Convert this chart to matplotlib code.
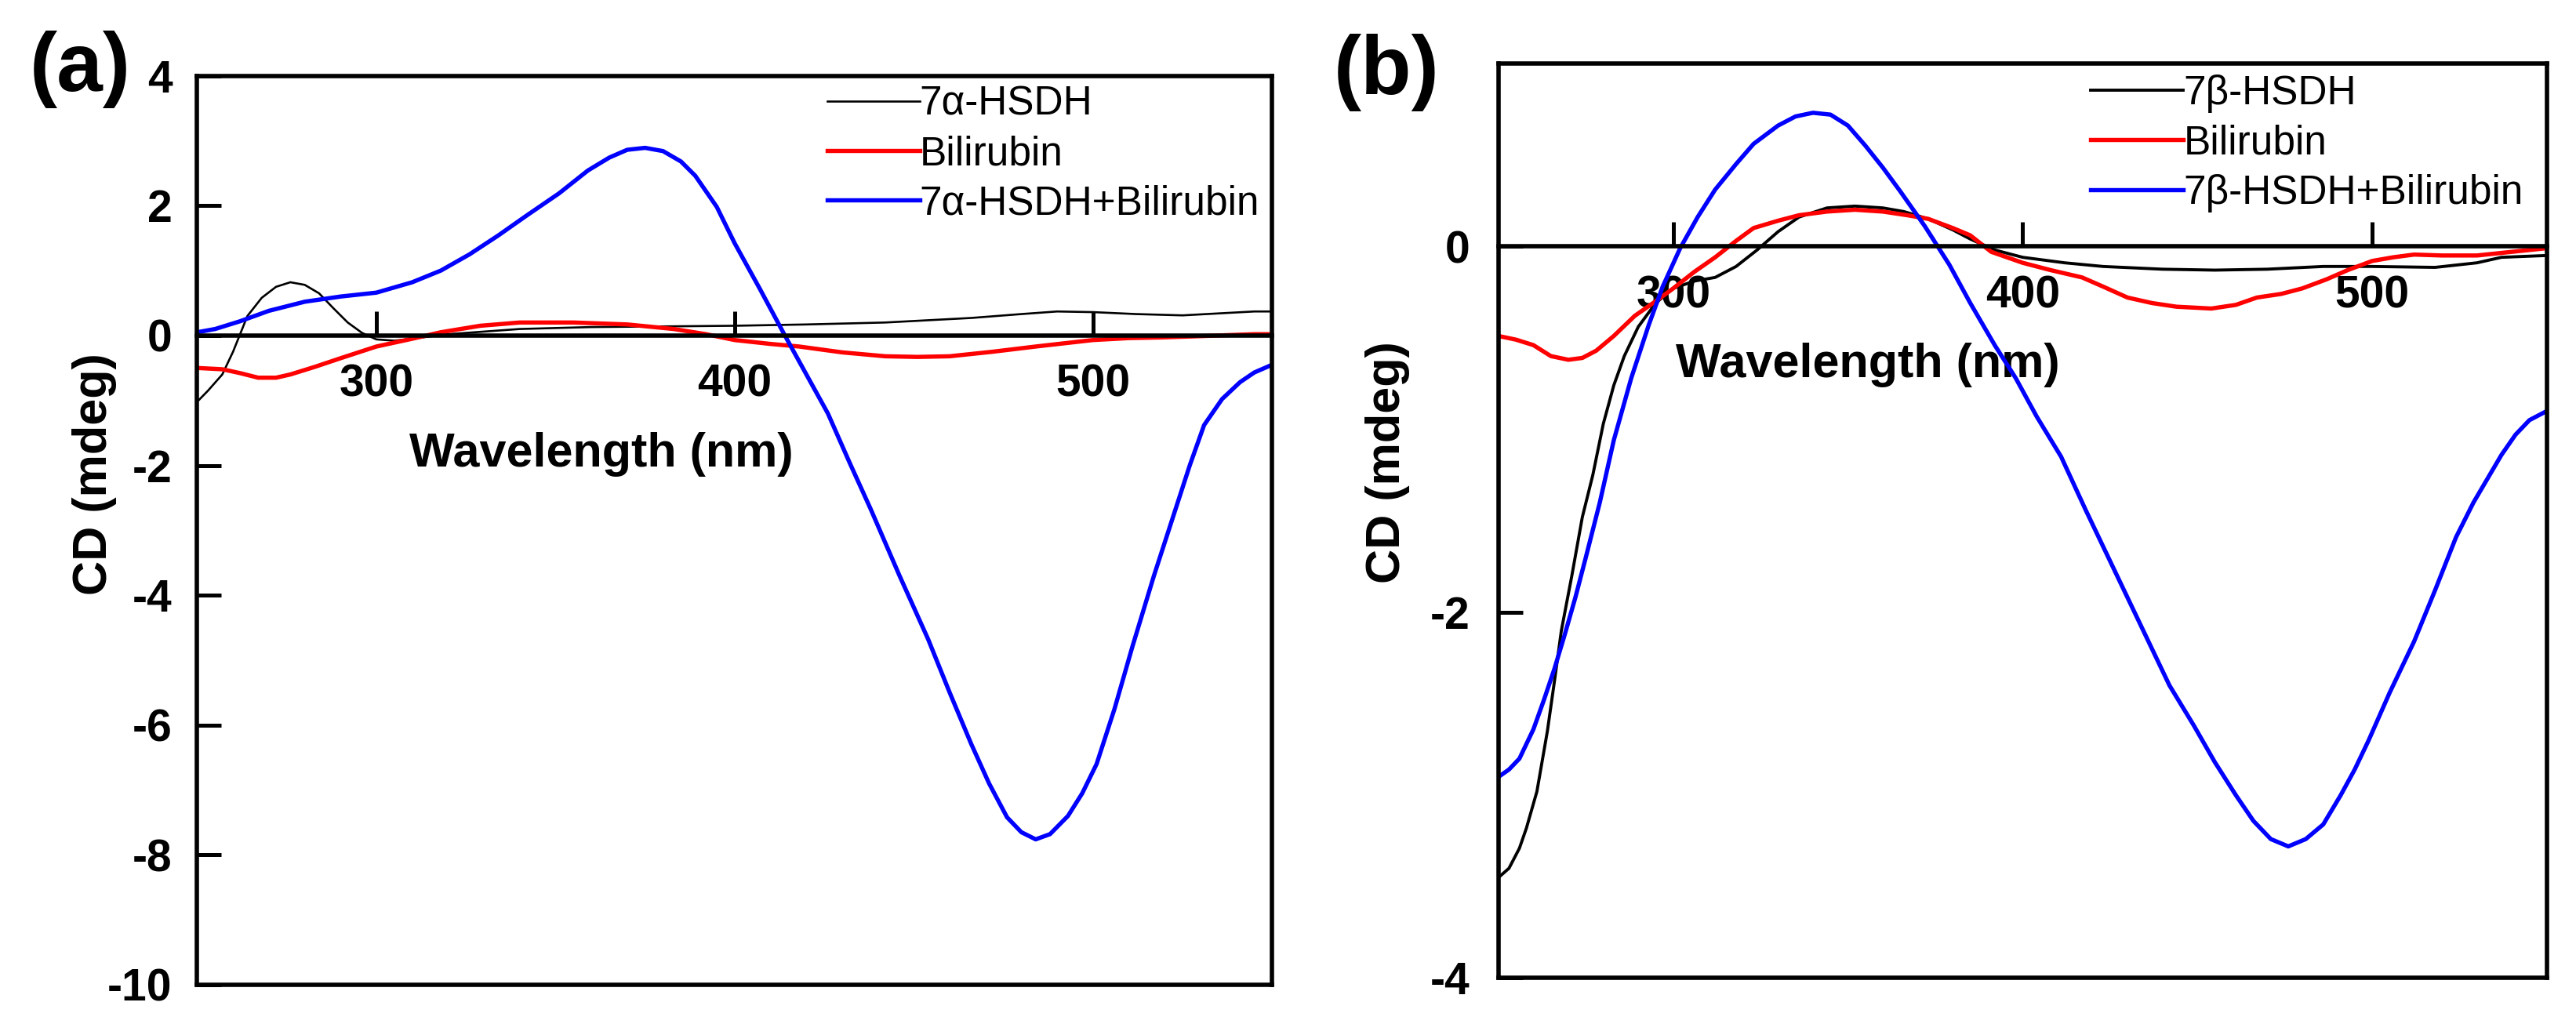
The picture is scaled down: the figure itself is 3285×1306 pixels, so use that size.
import matplotlib
matplotlib.use("Agg")
import matplotlib.pyplot as plt

plt.rcParams['font.family'] = ['Liberation Sans', 'DejaVu Sans']
plt.rcParams['font.weight'] = 'bold'
plt.rcParams['axes.unicode_minus'] = False

# ---- panel (a): 7alpha-HSDH ----
wl_a_enz = [250, 253, 257, 260, 264, 268, 272, 276, 280, 284, 288, 292, 296, 300, 305, 310,
            320, 330, 340, 360, 380, 400, 420, 442, 466, 480, 490, 500, 512, 525, 535, 545, 550]
cd_a_enz = [-1.02, -0.85, -0.60, -0.25, 0.30, 0.58, 0.75, 0.82, 0.78, 0.65, 0.42, 0.20, 0.04, -0.06,
            -0.08, -0.05, 0.02, 0.06, 0.10, 0.13, 0.14, 0.15, 0.17, 0.20, 0.27, 0.33, 0.37, 0.36,
            0.33, 0.31, 0.34, 0.37, 0.37]

wl_a_bil = [250, 257, 262, 267, 272, 276, 283, 290, 300, 310, 318, 329, 340, 355, 370, 383, 392,
            400, 410, 418, 430, 442, 451, 460, 472, 484, 492, 500, 510, 519, 530, 545, 550]
cd_a_bil = [-0.50, -0.52, -0.58, -0.65, -0.65, -0.60, -0.48, -0.35, -0.17, -0.05, 0.05, 0.15, 0.20,
            0.20, 0.17, 0.10, 0.02, -0.07, -0.13, -0.17, -0.26, -0.32, -0.33, -0.32, -0.25, -0.17,
            -0.12, -0.07, -0.04, -0.03, -0.01, 0.02, 0.02]

wl_a_mix = [250, 255, 262, 270, 280, 290, 300, 310, 318, 326, 334, 342, 351, 359, 365, 370, 375,
            380, 385, 389, 395, 400, 407, 414, 420, 426, 432, 438, 446, 454, 460, 466, 471, 476,
            480, 484, 488, 493, 497, 501, 506, 511, 517, 523, 527, 531, 536, 541, 545, 550]
cd_a_mix = [0.05, 0.10, 0.22, 0.38, 0.52, 0.60, 0.66, 0.82, 1.00, 1.25, 1.54, 1.85, 2.19, 2.54,
            2.74, 2.86, 2.89, 2.84, 2.68, 2.46, 1.98, 1.42, 0.72, 0.00, -0.60, -1.20, -1.95, -2.68,
            -3.70, -4.68, -5.50, -6.29, -6.90, -7.42, -7.65, -7.76, -7.68, -7.40, -7.05, -6.60,
            -5.75, -4.79, -3.70, -2.68, -2.00, -1.38, -0.98, -0.72, -0.57, -0.45]

# ---- panel (b): 7beta-HSDH ----
wl_b_enz = [250, 253, 256, 258, 261, 264, 266, 268, 271, 274, 277, 280, 283, 286, 290, 295, 300,
            306, 312, 318, 324, 330, 336, 344, 352, 360, 366, 373, 380, 385, 392, 400, 412, 423,
            440, 455, 470, 486, 500, 518, 530, 537, 550]
cd_b_enz = [-3.45, -3.40, -3.29, -3.18, -2.98, -2.65, -2.38, -2.10, -1.80, -1.48, -1.25, -0.97,
            -0.76, -0.60, -0.44, -0.31, -0.23, -0.19, -0.17, -0.11, -0.02, 0.08, 0.16, 0.21, 0.22,
            0.21, 0.19, 0.15, 0.09, 0.04, -0.02, -0.06, -0.09, -0.11, -0.125, -0.13, -0.125, -0.11,
            -0.11, -0.115, -0.09, -0.06, -0.05]

wl_b_bil = [250, 255, 260, 265, 270, 274, 278, 283, 289, 295, 300, 306, 312, 318, 323, 330, 336,
            344, 352, 360, 367, 373, 380, 385, 391, 400, 408, 417, 423, 430, 437, 444, 454, 461,
            467, 474, 480, 487, 493, 500, 506, 512, 520, 530, 540, 550]
cd_b_bil = [-0.49, -0.51, -0.54, -0.60, -0.62, -0.61, -0.57, -0.49, -0.38, -0.30, -0.23, -0.14,
            -0.06, 0.03, 0.10, 0.14, 0.17, 0.19, 0.20, 0.19, 0.17, 0.15, 0.10, 0.06, -0.03, -0.09,
            -0.13, -0.17, -0.22, -0.28, -0.31, -0.33, -0.34, -0.32, -0.28, -0.26, -0.23, -0.18,
            -0.13, -0.08, -0.06, -0.045, -0.05, -0.05, -0.03, -0.01]

wl_b_mix = [250, 253, 256, 260, 263, 266, 269, 272, 275, 279, 283, 288, 293, 297, 302, 307, 312,
            318, 323, 330, 335, 340, 345, 350, 355, 360, 365, 372, 379, 385, 392, 398, 404, 411,
            418, 427, 436, 442, 449, 455, 461, 466, 471, 476, 481, 486, 491, 495, 499, 505, 512,
            518, 524, 529, 533, 537, 541, 545, 550]
cd_b_mix = [-2.90, -2.86, -2.80, -2.64, -2.48, -2.31, -2.12, -1.92, -1.70, -1.40, -1.06, -0.72,
            -0.43, -0.22, -0.01, 0.16, 0.31, 0.45, 0.56, 0.66, 0.71, 0.73, 0.72, 0.66, 0.55, 0.43,
            0.30, 0.11, -0.10, -0.31, -0.54, -0.72, -0.93, -1.15, -1.44, -1.80, -2.16, -2.40,
            -2.62, -2.82, -3.00, -3.14, -3.24, -3.28, -3.24, -3.16, -3.00, -2.86, -2.70, -2.44,
            -2.16, -1.88, -1.59, -1.40, -1.27, -1.14, -1.03, -0.95, -0.90]

labels_a = ['7α-HSDH', 'Bilirubin', '7α-HSDH+Bilirubin']
labels_b = ['7β-HSDH', 'Bilirubin', '7β-HSDH+Bilirubin']
x_ticks = [300, 400, 500]
y_ticks_a = [4, 2, 0, -2, -4, -6, -8, -10]
y_ticks_b = [0, -2, -4]

SPINE_LW = 4.0


def style_axes(ax, ylim, yticks, ypad):
    ax.set_xlim(250, 550)
    ax.set_ylim(*ylim)
    for s in ax.spines.values():
        s.set_linewidth(SPINE_LW)
    # x axis drawn through zero, box closed at the bottom by a plain line
    ax.spines['bottom'].set_position(('data', 0))
    ax.plot([0, 1], [0, 0], transform=ax.transAxes, color='k', lw=SPINE_LW,
            clip_on=False, solid_capstyle='projecting')
    ax.set_xticks(x_ticks)
    ax.set_yticks(yticks)
    ax.tick_params(axis='both', direction='in', length=22, width=3.6, labelsize=41)
    ax.tick_params(axis='x', pad=26)
    ax.tick_params(axis='y', pad=ypad)


fig = plt.figure(figsize=(32.85, 13.06), dpi=100)
ax_a = fig.add_axes([0.07656, 0.0383, 0.4173, 0.8877])
ax_b = fig.add_axes([0.5817, 0.0448, 0.4070, 0.8933])

ax_a.plot(wl_a_enz, cd_a_enz, color='black', lw=1.9, label=labels_a[0])
ax_a.plot(wl_a_bil, cd_a_bil, color='red', lw=3.9, label=labels_a[1])
ax_a.plot(wl_a_mix, cd_a_mix, color='blue', lw=3.9, label=labels_a[2])

ax_b.plot(wl_b_enz, cd_b_enz, color='black', lw=2.8, label=labels_b[0])
ax_b.plot(wl_b_bil, cd_b_bil, color='red', lw=3.9, label=labels_b[1])
ax_b.plot(wl_b_mix, cd_b_mix, color='blue', lw=3.9, label=labels_b[2])

style_axes(ax_a, (-10, 4), y_ticks_a, 23)
style_axes(ax_b, (-4, 1), y_ticks_b, 26)

leg_kw = dict(loc='upper left', frameon=False, borderpad=0, borderaxespad=0,
              handlelength=2.3, handletextpad=0, labelspacing=0.28,
              prop={'size': 37, 'weight': 'normal'})
ax_a.legend(bbox_to_anchor=(0.5858, 0.9896), **leg_kw)
ax_b.legend(bbox_to_anchor=(0.565, 0.9878), **leg_kw)

for ax, xl, yl in [(ax_a, (0.3757, 0.5836), (-0.0952, 0.5615)),
                   (ax_b, (0.3523, 0.6703), (-0.1055, 0.5636))]:
    ax.set_xlabel('Wavelength (nm)', fontsize=44, fontweight='bold', va='center')
    ax.set_ylabel('CD (mdeg)', fontsize=44, fontweight='bold', va='center')
    ax.xaxis.set_label_coords(*xl)
    ax.yaxis.set_label_coords(*yl)

fig.text(38 / 3285, 1 - 116 / 1306, '(a)', fontsize=76, fontweight='bold', ha='left', va='baseline')
fig.text(1701 / 3285, 1 - 120 / 1306, '(b)', fontsize=76, fontweight='bold', ha='left', va='baseline')

fig.savefig('out.png', dpi=100, facecolor='white')
